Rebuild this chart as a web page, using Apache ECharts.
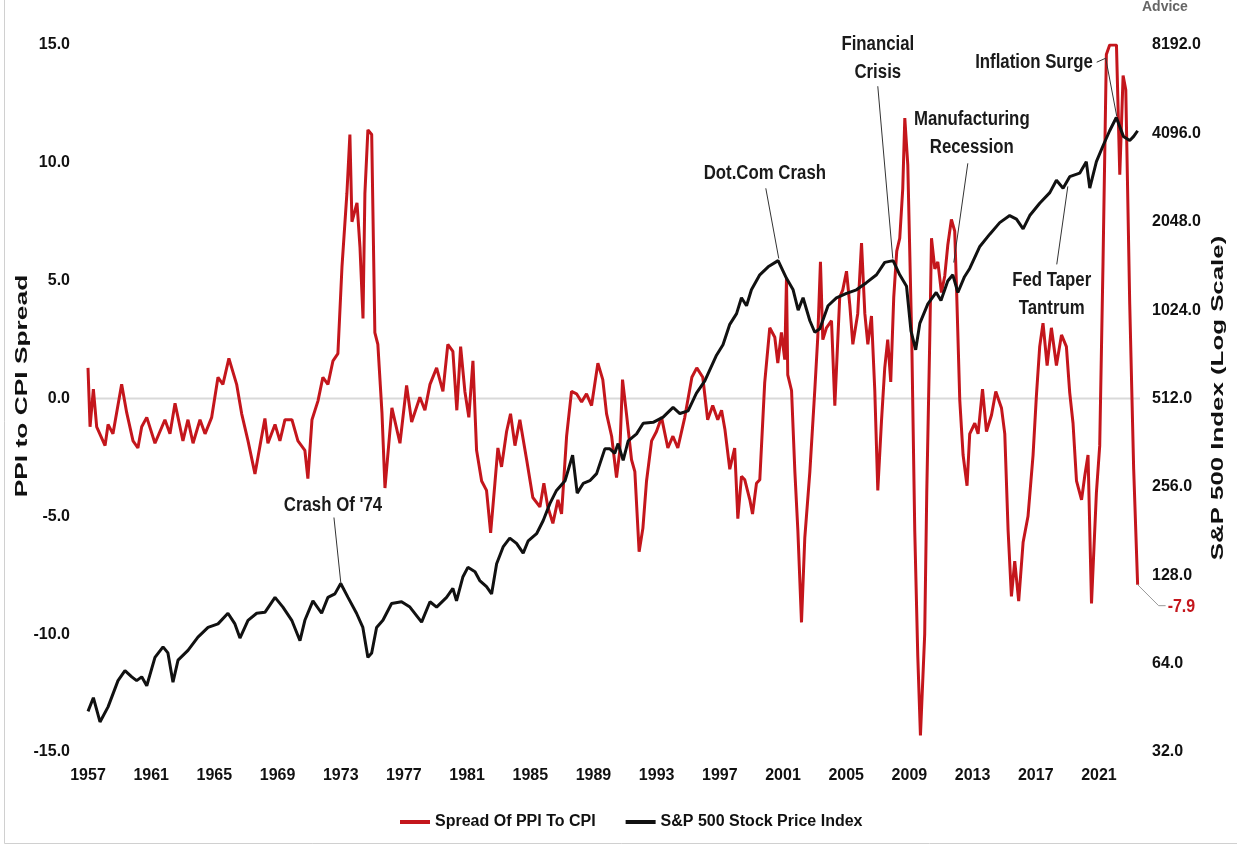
<!DOCTYPE html>
<html>
<head>
<meta charset="utf-8">
<title>Spread Of PPI To CPI vs S&amp;P 500</title>
<script src="https://cdn.jsdelivr.net/npm/echarts@6/dist/echarts.min.js"></script>
<style>
  html, body { margin: 0; padding: 0; background: #fff; }
  #chart { width: 1237px; height: 848px; }
</style>
</head>
<body>
<div id="chart"></div>
<script>
// PPI minus CPI spread (left axis)
const spreadYears = [
  1957.0, 1957.13, 1957.34, 1957.55, 1958.08, 1958.27, 1958.58, 1959.13, 1959.45, 1959.85,
  1960.16, 1960.4, 1960.72, 1961.24, 1961.87, 1962.19, 1962.51, 1963.01, 1963.33, 1963.65,
  1964.09, 1964.41, 1964.83, 1965.23, 1965.54, 1965.92, 1966.41, 1966.73, 1967.13, 1967.57,
  1967.89, 1968.2, 1968.39, 1968.84, 1969.15, 1969.47, 1969.91, 1970.29, 1970.73, 1970.92,
  1971.18, 1971.56, 1971.87, 1972.19, 1972.51, 1972.82, 1973.08, 1973.39, 1973.58, 1973.71,
  1974.03, 1974.22, 1974.41, 1974.53, 1974.72, 1974.96, 1975.16, 1975.35, 1975.61, 1975.8,
  1976.24, 1976.75, 1977.17, 1977.49, 1978.01, 1978.33, 1978.65, 1979.07, 1979.47, 1979.78,
  1980.1, 1980.35, 1980.59, 1980.86, 1981.11, 1981.37, 1981.6, 1981.92, 1982.23, 1982.49,
  1982.76, 1982.95, 1983.18, 1983.5, 1983.75, 1984.03, 1984.34, 1984.77, 1985.16, 1985.61,
  1985.86, 1986.11, 1986.43, 1986.75, 1986.98, 1987.3, 1987.61, 1987.93, 1988.25, 1988.56,
  1988.88, 1989.28, 1989.59, 1989.83, 1990.15, 1990.46, 1990.67, 1990.84, 1991.09, 1991.41,
  1991.62, 1991.89, 1992.13, 1992.36, 1992.68, 1992.99, 1993.31, 1993.71, 1994.03, 1994.34,
  1994.78, 1995.23, 1995.54, 1995.92, 1996.23, 1996.55, 1996.87, 1997.11, 1997.32, 1997.63,
  1997.94, 1998.14, 1998.37, 1998.58, 1998.9, 1999.07, 1999.32, 1999.53, 1999.84, 2000.16,
  2000.48, 2000.67, 2000.9, 2001.11, 2001.22, 2001.3, 2001.54, 2001.75, 2001.94, 2002.17,
  2002.38, 2002.7, 2003.01, 2003.2, 2003.37, 2003.52, 2003.75, 2004.07, 2004.28, 2004.59,
  2004.78, 2005.02, 2005.23, 2005.42, 2005.73, 2005.97, 2006.18, 2006.37, 2006.6, 2006.81,
  2007.0, 2007.23, 2007.44, 2007.63, 2007.82, 2008.01, 2008.2, 2008.39, 2008.58, 2008.71,
  2008.9, 2009.15, 2009.34, 2009.53, 2009.7, 2009.97, 2010.1, 2010.29, 2010.4, 2010.61,
  2010.8, 2011.03, 2011.24, 2011.43, 2011.66, 2011.87, 2011.98, 2012.19, 2012.4, 2012.65,
  2012.82, 2013.14, 2013.35, 2013.63, 2013.88, 2014.2, 2014.47, 2014.83, 2015.04, 2015.25,
  2015.46, 2015.67, 2015.92, 2016.2, 2016.51, 2016.83, 2017.04, 2017.25, 2017.46, 2017.72,
  2017.99, 2018.31, 2018.63, 2018.94, 2019.15, 2019.36, 2019.58, 2019.9, 2020.1, 2020.31,
  2020.53, 2020.84, 2021.05, 2021.26, 2021.47, 2021.68, 2022.11, 2022.32, 2022.53, 2022.7,
  2022.95, 2023.2, 2023.45
];
const spreadValues = [
  1.3, -1.2, 0.4, -1.2, -2.0, -1.1, -1.5, 0.6, -0.6, -1.8,
  -2.1, -1.2, -0.8, -1.9, -0.9, -1.5, -0.2, -1.8, -0.9, -1.9,
  -0.9, -1.5, -0.8, 0.9, 0.6, 1.7, 0.6, -0.65, -1.8, -3.2,
  -2.0, -0.85, -1.9, -1.1, -1.8, -0.9, -0.9, -1.8, -2.2, -3.4,
  -0.9, -0.1, 0.9, 0.6, 1.6, 1.9, 5.6, 8.7, 11.2, 7.5,
  8.3, 6.4, 3.4, 8.7, 11.4, 11.2, 2.8, 2.3, -0.6, -3.8,
  -0.4, -1.9, 0.55, -1.0, 0.05, -0.5, 0.6, 1.3, 0.3, 2.3,
  2.0, -0.5, 2.2, 0.3, -0.8, 1.6, -2.2, -3.5, -3.9, -5.7,
  -3.6, -2.1, -2.9, -1.4, -0.65, -2.0, -0.9, -2.6, -4.2, -4.6,
  -3.6, -4.6, -5.3, -4.3, -4.9, -1.6, 0.3, 0.2, -0.15, 0.2,
  -0.3, 1.5, 0.8, -0.65, -1.6, -3.35, -2.2, 0.8, -0.65, -2.6,
  -3.1, -6.5, -5.5, -3.5, -1.8, -1.4, -0.8, -2.1, -1.6, -2.1,
  -0.8, 0.9, 1.3, 0.9, -0.9, -0.3, -0.9, -0.5, -1.3, -3.0,
  -2.1, -5.1, -3.3, -3.45, -4.3, -4.9, -3.6, -3.45, 0.66, 3.0,
  2.6, 1.5, 2.8, 1.65, 5.1, 1.0, 0.34, -3.1, -5.6, -9.5,
  -5.9, -3.1, 0.34, 2.6, 5.8, 2.5, 3.0, 3.3, -0.3, 4.3,
  4.6, 5.4, 3.95, 2.3, 3.6, 6.6, 3.6, 2.3, 3.5, 0.34,
  -3.9, -1.0, 1.3, 2.5, 0.7, 4.3, 6.25, 6.8, 8.9, 11.9,
  9.9, 2.5, -5.6, -10.9, -14.3, -10.0, -4.0, 2.5, 6.8, 5.5,
  5.8, 4.5, 5.2, 6.5, 7.6, 7.1, 4.8, -0.07, -2.4, -3.7,
  -1.5, -1.05, -1.5, 0.4, -1.4, -0.7, 0.3, -0.4, -1.5, -5.6,
  -8.4, -6.9, -8.6, -6.1, -5.0, -2.4, 0.1, 2.2, 3.2, 1.4,
  3.0, 1.4, 2.7, 2.2, 0.25, -1.05, -3.5, -4.3, -3.3, -2.4,
  -8.7, -4.0, -2.0, 5.8, 14.6, 15.0, 15.0, 9.5, 13.7, 13.1,
  4.0, -3.0, -7.9
];

// S&P 500 price index (right axis, log 2)
const spxYears = [
  1957.0, 1957.34, 1957.76, 1958.27, 1958.9, 1959.34, 1959.77, 1960.08, 1960.4, 1960.72,
  1961.24, 1961.75, 1962.06, 1962.38, 1962.7, 1963.33, 1963.96, 1964.6, 1965.23, 1965.86,
  1966.3, 1966.62, 1967.13, 1967.68, 1968.2, 1968.84, 1969.34, 1969.9, 1970.42, 1970.73,
  1971.24, 1971.79, 1972.19, 1972.63, 1973.0, 1973.46, 1974.0, 1974.4, 1974.72, 1974.96,
  1975.27, 1975.67, 1976.22, 1976.85, 1977.38, 1978.12, 1978.65, 1979.07, 1979.7, 1980.1,
  1980.33, 1980.73, 1981.05, 1981.5, 1981.8, 1982.23, 1982.55, 1982.87, 1983.28, 1983.7,
  1984.13, 1984.55, 1984.87, 1985.4, 1985.82, 1986.24, 1986.66, 1987.2, 1987.68, 1987.97,
  1988.35, 1988.77, 1989.2, 1989.72, 1990.04, 1990.35, 1990.56, 1990.88, 1991.2, 1991.73,
  1992.15, 1992.78, 1993.41, 1994.04, 1994.47, 1994.99, 1995.52, 1996.05, 1996.79, 1997.2,
  1997.63, 1998.06, 1998.37, 1998.69, 1999.0, 1999.53, 2000.06, 2000.69, 2001.22, 2001.64,
  2001.96, 2002.27, 2002.7, 2003.01, 2003.33, 2003.85, 2004.38, 2005.02, 2005.65, 2006.28,
  2006.92, 2007.44, 2007.97, 2008.39, 2008.82, 2009.1, 2009.4, 2009.66, 2010.17, 2010.7,
  2011.0, 2011.43, 2011.75, 2012.07, 2012.49, 2012.82, 2013.46, 2014.09, 2014.72, 2015.35,
  2015.78, 2016.2, 2016.62, 2017.25, 2017.89, 2018.31, 2018.73, 2019.15, 2019.78, 2020.2,
  2020.42, 2020.84, 2021.26, 2021.68, 2022.1, 2022.55, 2022.95, 2023.2, 2023.45
];
const spxValues = [
  44, 49, 40.5, 45.6, 56, 60.6, 57.7, 56, 57.7, 53.8,
  67.2, 73, 69.6, 55.3, 65.8, 71, 78.8, 85, 87.4, 95,
  87.4, 78.2, 89.9, 95, 95.7, 107.6, 99.7, 89.9, 76.6, 89.9,
  104.7, 95, 107.6, 110.6, 120, 107.6, 95, 85, 67.2, 69.6,
  85, 89.9, 102.6, 104, 99.7, 88.6, 104, 99.7, 107.6, 115.4,
  104.7, 126.2, 136.2, 131.6, 122.8, 117, 110.6, 140, 159.8, 171.3,
  164.3, 152.2, 167.7, 177.3, 196.7, 224.4, 249, 268.7, 328.5, 243.8,
  263, 268.7, 284, 344.9, 344.9, 333, 359.5, 315, 367, 388,
  421.7, 424.6, 442.6, 477.7, 455, 464.7, 533.7, 588, 719, 781,
  916, 996, 1128, 1060, 1201, 1351, 1438, 1510, 1314, 1201,
  1024, 1128, 942, 861, 885, 1060, 1128, 1168, 1201, 1270,
  1351, 1489, 1510, 1351, 1235, 870, 750, 923, 1075, 1176,
  1105, 1287, 1351, 1176, 1331, 1420, 1687, 1858, 2034, 2150,
  2091, 1937, 2150, 2369, 2574, 2836, 2665, 2916, 2998, 3281,
  2665, 3281, 3717, 4181, 4640, 4000, 3874, 4000, 4181
];

const seriesNames = ["Spread Of PPI To CPI", "S&P 500 Stock Price Index"];
const axisNames = ["PPI to CPI Spread", "S&P 500 Index (Log Scale)"];

// callouts, placed in (year, spread) coordinates
const notes = [
  { text: "Crash Of '74", at: [1972.51, -4.54], line: [[1972.57, -5.05], [1973.01, -7.86]] },
  { text: "Dot.Com Crash", at: [1999.85, 9.55], line: [[1999.91, 8.92], [2000.73, 5.94]] },
  { text: "Financial\nCrisis", at: [2007.0, 14.44], line: [[2007.0, 13.25], [2007.95, 5.94]] },
  { text: "Manufacturing\nRecession", at: [2012.95, 11.25], line: [[2012.7, 9.98], [2011.81, 5.77]] },
  { text: "Fed Taper\nTantrum", at: [2018.01, 4.42], line: [[2018.33, 5.69], [2019.03, 9.0]] },
  { text: "Inflation Surge", at: [2020.61, 14.27], align: "right",
    line: [[2020.86, 14.27], [2021.43, 14.44], [2022.13, 11.97]] }
];

const RED = "#c4161c";
const BLACK = "#111111";
const FONT = "'Liberation Sans', Arial, sans-serif";

const chart = echarts.init(document.getElementById("chart"), null, { renderer: "canvas" });

const labelStyle = { fontFamily: FONT, fontWeight: "bold", fontSize: 16, color: "#111" };

chart.setOption({
  animation: false,
  backgroundColor: "#ffffff",
  grid: { left: 88, right: 97, top: 45, bottom: 96, outerBoundsMode: "none" },
  legend: {
    left: 395,
    top: 809,
    icon: "rect",
    itemWidth: 30,
    itemHeight: 4,
    itemGap: 30,
    data: seriesNames,
    textStyle: { fontFamily: FONT, fontWeight: "bold", fontSize: 16, color: "#111" }
  },
  xAxis: {
    type: "value",
    min: 1957,
    max: 2023.6,
    interval: 4,
    axisLine: { show: false },
    axisTick: { show: false },
    splitLine: { show: false },
    axisLabel: Object.assign({ margin: 16, formatter: (v) => (Number.isInteger(v) ? String(v) : "") }, labelStyle)
  },
  yAxis: [
    {
      type: "value",
      position: "left",
      min: -15,
      max: 15,
      interval: 5,
      axisLine: { show: false },
      axisTick: { show: false },
      splitLine: { show: false },
      axisLabel: Object.assign({ margin: 18, formatter: (v) => v.toFixed(1) }, labelStyle)
    },
    {
      type: "log",
      logBase: 2,
      position: "right",
      min: 32,
      max: 8192,
      splitNumber: 8,
      axisLine: { show: false },
      axisTick: { show: false },
      splitLine: { show: false },
      axisLabel: Object.assign({ margin: 12, formatter: (v) => Number(v).toFixed(1) }, labelStyle)
    }
  ],
  series: [
    {
      name: "zero",
      type: "line",
      data: [[1957, 0], [2023.6, 0]],
      showSymbol: false,
      silent: true,
      z: 1,
      lineStyle: { color: "#d9d9d9", width: 2 }
    },
    {
      name: seriesNames[0],
      type: "line",
      data: spreadYears.map((y, i) => [y, spreadValues[i]]),
      showSymbol: false,
      z: 2,
      lineStyle: { color: RED, width: 3 },
      itemStyle: { color: RED }
    },
    {
      name: seriesNames[1],
      type: "line",
      yAxisIndex: 1,
      data: spxYears.map((y, i) => [y, spxValues[i]]),
      showSymbol: false,
      z: 3,
      lineStyle: { color: BLACK, width: 3 },
      itemStyle: { color: BLACK }
    }
  ]
});

// annotations drawn through the axes' own conversion
const px = (p) => chart.convertToPixel({ xAxisIndex: 0, yAxisIndex: 0 }, p);
const graphic = [];

notes.forEach((n) => {
  const p = px(n.at);
  graphic.push({
    type: "text",
    x: p[0],
    y: p[1],
    scaleX: 0.84,
    z: 10,
    style: {
      text: n.text,
      align: n.align || "center",
      verticalAlign: "middle",
      fontFamily: FONT,
      fontWeight: "bold",
      fontSize: 20,
      lineHeight: 28,
      fill: "#1a1a1a"
    }
  });
  graphic.push({
    type: "polyline",
    z: 10,
    shape: { points: n.line.map(px) },
    style: { stroke: "#333", lineWidth: 1, fill: null }
  });
});

// last-value tag for the spread
const lastIdx = spreadValues.length - 1;
const last = px([spreadYears[lastIdx], spreadValues[lastIdx]]);
graphic.push({
  type: "polyline",
  z: 10,
  shape: { points: [last, [last[0] + 21, last[1] + 21], [last[0] + 28, last[1] + 21]] },
  style: { stroke: "#999", lineWidth: 1, fill: null }
});
graphic.push({
  type: "text",
  x: last[0] + 30,
  y: last[1] + 22,
  scaleX: 0.84,
  z: 10,
  style: {
    text: spreadValues[lastIdx].toFixed(1),
    align: "left",
    verticalAlign: "middle",
    fontFamily: FONT,
    fontWeight: "bold",
    fontSize: 19,
    fill: RED
  }
});

// axis titles (rotated, reading bottom to top)
graphic.push({
  type: "text",
  x: 22,
  y: 386,
  rotation: Math.PI / 2,
  scaleX: 1.55,
  style: { text: axisNames[0], align: "center", verticalAlign: "middle", fontFamily: FONT, fontWeight: "bold", fontSize: 17, fill: "#111" }
});
graphic.push({
  type: "text",
  x: 1218,
  y: 398,
  rotation: Math.PI / 2,
  scaleX: 1.52,
  style: { text: axisNames[1], align: "center", verticalAlign: "middle", fontFamily: FONT, fontWeight: "bold", fontSize: 17, fill: "#111" }
});

// cropped logo text and frame
graphic.push({
  type: "text",
  x: 1142,
  y: 7,
  style: { text: "Advice", align: "left", verticalAlign: "middle", fontFamily: FONT, fontWeight: "bold", fontSize: 14, fill: "#666" }
});
graphic.push({
  type: "rect",
  shape: { x: 4.5, y: -10, width: 1300, height: 853.5 },
  style: { stroke: "#d0d0d0", lineWidth: 1, fill: null },
  silent: true
});

chart.setOption({ graphic });
</script>
</body>
</html>
